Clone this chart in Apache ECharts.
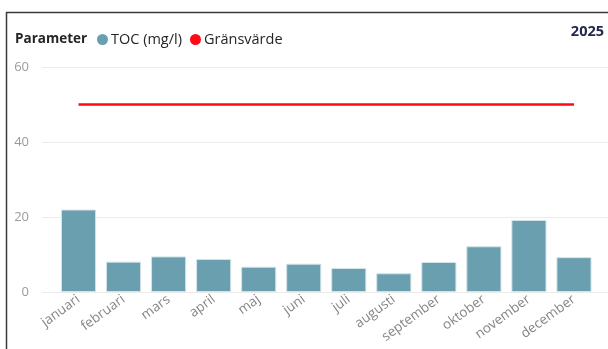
<!DOCTYPE html>
<html>
<head>
<meta charset="utf-8">
<script src="https://cdn.jsdelivr.net/npm/echarts@6/dist/echarts.min.js"></script>
<style>
  html, body { margin: 0; padding: 0; background: #fff; }
  #chart { width: 608px; height: 349px; }
</style>
</head>
<body>
<div id="chart"></div>
<script>
// Monthly TOC measurements and the limit value
const months = ['januari', 'februari', 'mars', 'april', 'maj', 'juni', 'juli', 'augusti', 'september', 'oktober', 'november', 'december'];
const tocValues = [22.0, 8.1, 9.5, 8.8, 6.75, 7.55, 6.4, 5.0, 8.0, 12.2, 19.2, 9.3];
const limitValues = [50, 50, 50, 50, 50, 50, 50, 50, 50, 50, 50, 50];
const yTicks = [0, 20, 40, 60];
const yearLabel = '2025';

const FONT = 'Open Sans';
const chart = echarts.init(document.getElementById('chart'));

chart.setOption({
  animation: false,
  textStyle: { fontFamily: FONT },
  graphic: [
    { type: 'rect', shape: { x: 6.5, y: 12.5, width: 800, height: 600 },
      style: { fill: 'none', stroke: '#3a3a3a', lineWidth: 1.5 }, silent: true },
    { type: 'text', x: 15, y: 39.5,
      style: { text: 'Parameter', fontFamily: FONT, fontWeight: 'bold', fontSize: 13.5,
        fill: '#252525', verticalAlign: 'middle' } },
    { type: 'text', x: 604, y: 32,
      style: { text: yearLabel, fontFamily: FONT, fontWeight: 'bold', fontSize: 14.5,
        fill: '#252850', align: 'right', verticalAlign: 'middle' } }
  ],
  legend: {
    left: 92, top: 27,
    icon: 'circle', itemWidth: 11, itemHeight: 11, itemGap: 8,
    itemStyle: { borderWidth: 0 },
    textStyle: { fontFamily: FONT, fontSize: 14.5, color: '#252525', padding: [0, 0, 0, -2] },
    data: [
      { name: 'TOC (mg/l)', itemStyle: { color: '#6a9fb0', borderWidth: 0 } },
      { name: 'Gränsvärde', itemStyle: { color: '#ff0a14', borderWidth: 0 } }
    ]
  },
  grid: [
    { left: 42, right: 0, top: 67, bottom: 57 },
    { left: 56, right: 11.5, top: 67, bottom: 57 }
  ],
  xAxis: [
    { gridIndex: 0, type: 'value', show: false },
    { gridIndex: 1, type: 'category', data: months,
      axisLine: { show: false }, axisTick: { show: false },
      axisLabel: { rotate: 36, margin: 6, fontSize: 13.5, color: '#858585', fontFamily: FONT } }
  ],
  yAxis: [
    { gridIndex: 0, type: 'value', min: 0, max: 60, interval: 20,
      axisLine: { show: false }, axisTick: { show: false },
      axisLabel: { margin: 13, fontSize: 13, color: '#9a9a9a', fontFamily: FONT,
        customValues: yTicks },
      splitLine: { lineStyle: { color: '#ececec', width: 1 } } },
    { gridIndex: 1, type: 'value', min: 0, max: 60, interval: 20, show: false,
      splitLine: { show: false } }
  ],
  series: [
    { name: 'TOC (mg/l)', type: 'bar', xAxisIndex: 1, yAxisIndex: 1, data: tocValues,
      barWidth: '78%',
      itemStyle: { color: '#6a9fb0', borderColor: '#d3e4e9', borderWidth: 1 } },
    { name: 'Gränsvärde', type: 'line', xAxisIndex: 1, yAxisIndex: 1, data: limitValues,
      symbol: 'none', lineStyle: { color: '#ff0a14', width: 2.5 }, itemStyle: { color: '#ff0a14' } }
  ]
});
</script>
</body>
</html>
